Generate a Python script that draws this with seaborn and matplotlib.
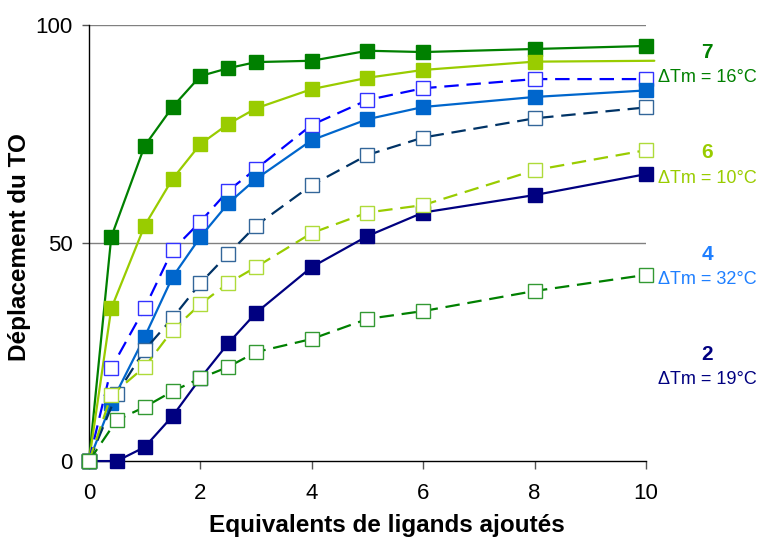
import numpy as np
import pandas as pd
import matplotlib
matplotlib.use('Agg')
import matplotlib.pyplot as plt
import seaborn as sns

# equivalents de ligands (x) et deplacement du TO (y)
x_7 = [0, 0.4, 1, 1.5, 2, 2.5, 3, 4, 5, 6, 8, 10]
y_7 = [0, 51.4, 72.3, 81.2, 88.3, 90.1, 91.5, 91.8, 94.1, 93.8, 94.5, 95.2]

x_6 = [0, 0.4, 1, 1.5, 2, 2.5, 3, 4, 5, 6, 8, 10.15]
y_6 = [0, 35.0, 54.0, 64.7, 72.7, 77.3, 80.9, 85.3, 87.9, 89.7, 91.6, 91.8]

x_4b = [0, 0.4, 1, 1.5, 2, 2.5, 3, 4, 5, 6, 8, 10]
y_4b = [0, 21.3, 35.1, 48.4, 54.9, 62.0, 67.0, 77.1, 82.8, 85.5, 87.6, 87.6]

x_4 = [0, 0.4, 1, 1.5, 2, 2.5, 3, 4, 5, 6, 8, 10]
y_4 = [0, 13.3, 28.5, 42.2, 51.4, 59.1, 64.7, 73.6, 78.4, 81.2, 83.5, 85.0]

x_dk = [0, 0.5, 1, 1.5, 2, 2.5, 3, 4, 5, 6, 8, 10]
y_dk = [0, 15.4, 25.5, 32.8, 40.8, 47.5, 54.0, 63.3, 70.2, 74.2, 78.6, 81.1]

x_2 = [0, 0.5, 1, 1.5, 2, 2.5, 3, 4, 5, 6, 8, 10]
y_2 = [0, 0, 3.2, 10.3, 19.0, 27.0, 34.0, 44.5, 51.6, 57.0, 61.0, 65.8]

x_6b = [0, 0.4, 1, 1.5, 2, 2.5, 3, 4, 5, 6, 8, 10]
y_6b = [0, 15.1, 21.6, 30.0, 36.0, 40.8, 44.5, 52.3, 57.0, 58.7, 66.7, 71.3]

x_7b = [0, 0.5, 1, 1.5, 2, 2.5, 3, 4, 5, 6, 8, 10]
y_7b = [0, 9.4, 12.4, 16.0, 19.0, 21.6, 25.0, 28.0, 32.6, 34.4, 39.0, 42.7]

labels_num = ['7', '6', '4', '2']
labels_dtm = ['\u0394Tm = 16°C', '\u0394Tm = 10°C', '\u0394Tm = 32°C', '\u0394Tm = 19°C']
label_colors = ['#008000', '#99CC00', '#1E7FFF', '#000080']

sns.set_style('white')
plt.rcParams['font.family'] = ['Liberation Sans', 'DejaVu Sans']

fig = plt.figure(figsize=(7.58, 5.38), dpi=100)
ax = fig.add_axes([0.1174, 0.143, 0.7348, 0.8105])

dash = (6.5, 3.5)
# (x, y, couleur ligne, pointillés, face, bord, markevery)
series = [
    (x_7, y_7, '#008000', None, '#008000', '#008000', None),
    (x_6, y_6, '#99CC00', None, '#99CC00', '#99CC00', list(range(11))),
    (x_4b, y_4b, '#0000FF', dash, 'white', '#3333FF', None),
    (x_4, y_4, '#0066CC', None, '#0066CC', '#0066CC', None),
    (x_dk, y_dk, '#003366', dash, 'white', '#336699', None),
    (x_2, y_2, '#000080', None, '#000080', '#000080', None),
    (x_6b, y_6b, '#99CC00', dash, 'white', '#AEDB3A', None),
    (x_7b, y_7b, '#008000', dash, 'white', '#339933', None),
]

for i, (xs, ys, col, ls, fc, ec, mev) in enumerate(series):
    df = pd.DataFrame({'x': xs, 'y': ys})
    kw = dict(color=col, linewidth=1.6, marker='s', markersize=9.5,
              markerfacecolor=fc, markeredgecolor=ec, markeredgewidth=1.0,
              clip_on=False, zorder=3 + i)
    if ls is not None:
        kw['dashes'] = ls
    if mev is not None:
        kw['markevery'] = mev
    sns.lineplot(data=df, x='x', y='y', ax=ax, sort=False, legend=False, **kw)

ax.set_xlim(0, 10)
ax.set_ylim(0, 100)
ax.set_xticks([0, 2, 4, 6, 8, 10])
ax.set_yticks([0, 50, 100])
for yv in [50, 100]:
    ax.axhline(yv, color='#808080', linewidth=1.0, zorder=1)

for s in ['top', 'right']:
    ax.spines[s].set_visible(False)
for s in ['left', 'bottom']:
    ax.spines[s].set_color('black')
    ax.spines[s].set_linewidth(1.0)
    ax.spines[s].set_zorder(2)

ax.tick_params(axis='both', direction='out', width=1, color='#555555',
               labelsize=16, labelcolor='black', left=True, bottom=True)
ax.tick_params(axis='y', length=5, pad=7)
ax.tick_params(axis='x', length=6, pad=10)

ax.set_xlabel('Equivalents de ligands ajoutés', fontsize=17.5, fontweight='bold', color='black')
ax.set_ylabel('Déplacement du TO', fontsize=17.5, fontweight='bold', color='black')
ax.xaxis.set_label_coords(0.535, -0.122)
ax.yaxis.set_label_coords(-0.104, 0.49)

label_px = [52, 153, 254, 355]
for t, d, py, c in zip(labels_num, labels_dtm, label_px, label_colors):
    fig.text(707 / 758, 1 - py / 538, t, color=c, fontsize=15, fontweight='bold',
             ha='center', va='center')
    fig.text(707 / 758, 1 - (py + 25) / 538, d, color=c, fontsize=13,
             ha='center', va='center')

fig.savefig('out.png', dpi=100)
